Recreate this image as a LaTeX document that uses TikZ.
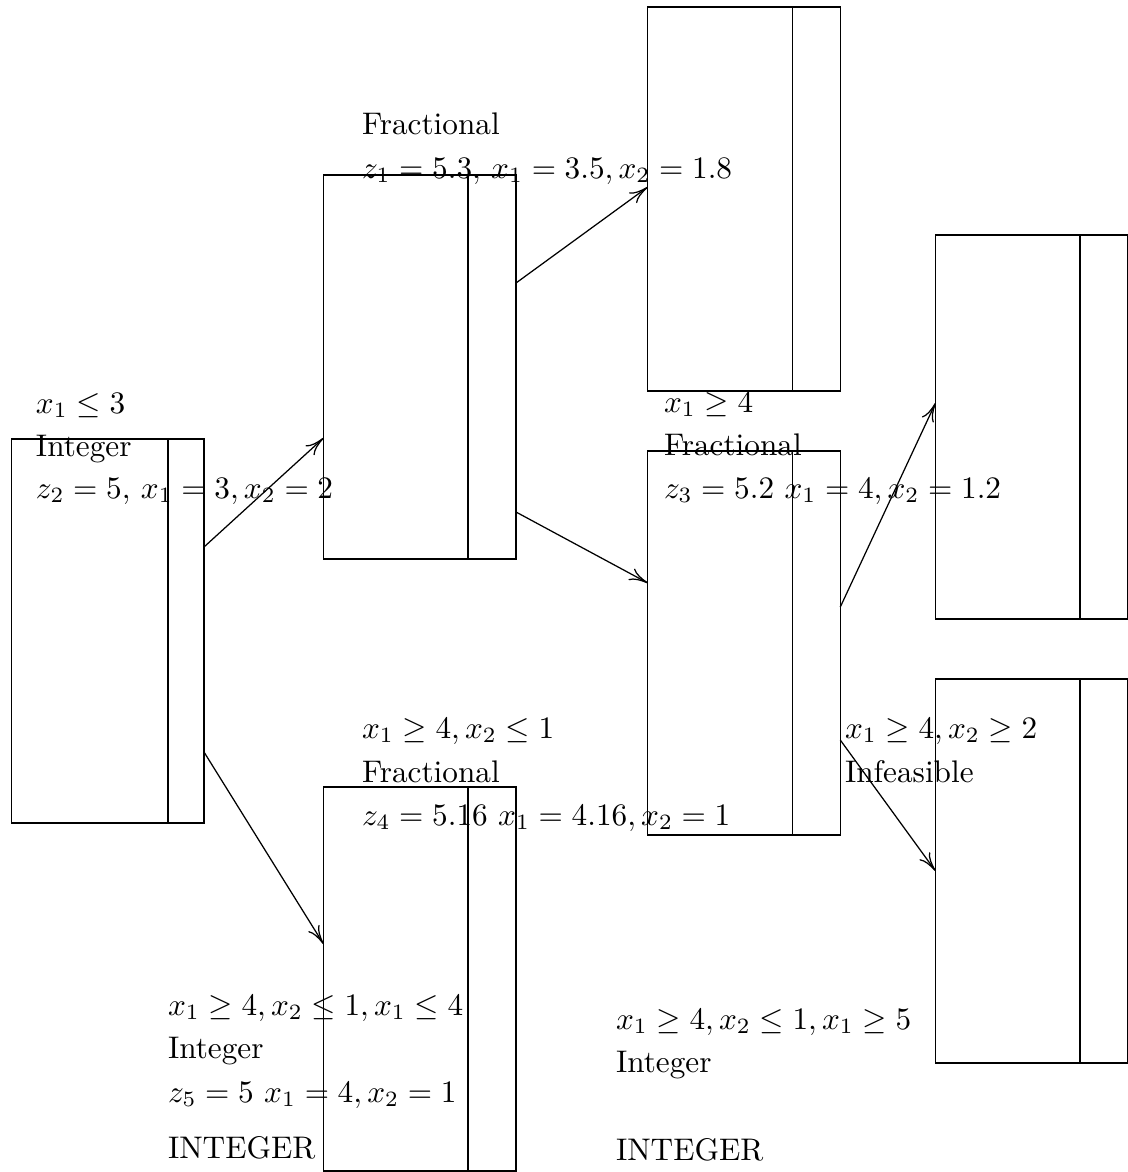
\documentclass[tikz,border=0pt]{standalone}
\usetikzlibrary{calc,arrows.meta}
\tikzset{
  box/.style={draw, rectangle, anchor=north west, minimum width=61.6pt, minimum height=122.88pt, inner sep=0pt, outer sep=0pt},
  lbl/.style={anchor=base west, inner sep=0pt, outer sep=0pt},
  conn/.style={-{To[length=6pt,width=4.2pt]}},
}
\begin{document}
\begin{tikzpicture}[x=0.32pt, y=-0.32pt]
\useasboundingbox (0,0) rectangle (1128,1172);
% boxes
\node[box] (b0) at (11.5,439) {};
\node[box] (b1) at (323.5,175) {};
\node[box] (b2) at (647.8,7) {};
\node[box] (b3) at (647.8,451) {};
\node[box] (b4) at (935.5,235) {};
\node[box] (b5) at (935.5,679) {};
\node[box] (b6) at (323.5,787) {};
% dividers
\draw ($(b0.north east)+(-36,0)$) -- ($(b0.south east)+(-36,0)$);
\foreach \b in {b1,b2,b3,b4,b5,b6}
  \draw ($(\b.north east)+(-48,0)$) -- ($(\b.south east)+(-48,0)$);
% connectors
\draw[conn] ($(b0.north east)+(0,108)$) -- ($(b1.north west)+(0,263)$);
\draw[conn] ($(b0.north east)+(0,313)$) -- ($(b6.north west)+(0,157)$);
\draw[conn] ($(b1.north east)+(0,108)$) -- ($(b2.north west)+(0,180)$);
\draw[conn] ($(b1.north east)+(0,337)$) -- ($(b3.north west)+(0,132)$);
\draw[conn] ($(b3.north east)+(0,156)$) -- ($(b4.north west)+(0,168)$);
\draw[conn] ($(b3.north east)+(0,289)$) -- ($(b5.north west)+(0,192)$);
% labels
\node[lbl] (ta1) at (36,413) {$x_1 \leq 3$};
\node[lbl] (ta2) at (36,456) {Integer};
\node[lbl] (ta3) at (36,498) {$z_2 = 5,$ $x_1 = 3, x_2 = 2$};
\node[lbl] (tb1) at (362,134) {Fractional};
\node[lbl] (tb2) at (362,178) {$z_1 = 5.3,$ $x_1 = 3.5, x_2 = 1.8$};
\node[lbl] (tc1) at (664,412) {$x_1 \geq 4$};
\node[lbl] (tc2) at (664,455) {Fractional};
\node[lbl] (tc3) at (664,498) {$z_3 = 5.2$ $x_1 = 4, x_2 = 1.2$};
\node[lbl] (td1) at (845,738) {$x_1 \geq 4, x_2 \geq 2$};
\node[lbl] (td2) at (845,782) {Infeasible};
\node[lbl] (te1) at (362,738) {$x_1 \geq 4, x_2 \leq 1$};
\node[lbl] (te2) at (362,782) {Fractional};
\node[lbl] (te3) at (362,825) {$z_4 = 5.16$ $x_1 = 4.16, x_2 = 1$};
\node[lbl] (tf1) at (168,1015) {$x_1 \geq 4, x_2 \leq 1, x_1 \leq 4$};
\node[lbl] (tf2) at (168,1058) {Integer};
\node[lbl] (tf3) at (168,1102) {$z_5 = 5$ $x_1 = 4, x_2 = 1$};
\node[lbl] (tf4) at (168,1158) {INTEGER};
\node[lbl] (tg1) at (616,1029) {$x_1 \geq 4, x_2 \leq 1, x_1 \geq 5$};
\node[lbl] (tg2) at (616,1072) {Integer};
\node[lbl] (tg3) at (616,1160) {INTEGER};
\end{tikzpicture}
\end{document}
